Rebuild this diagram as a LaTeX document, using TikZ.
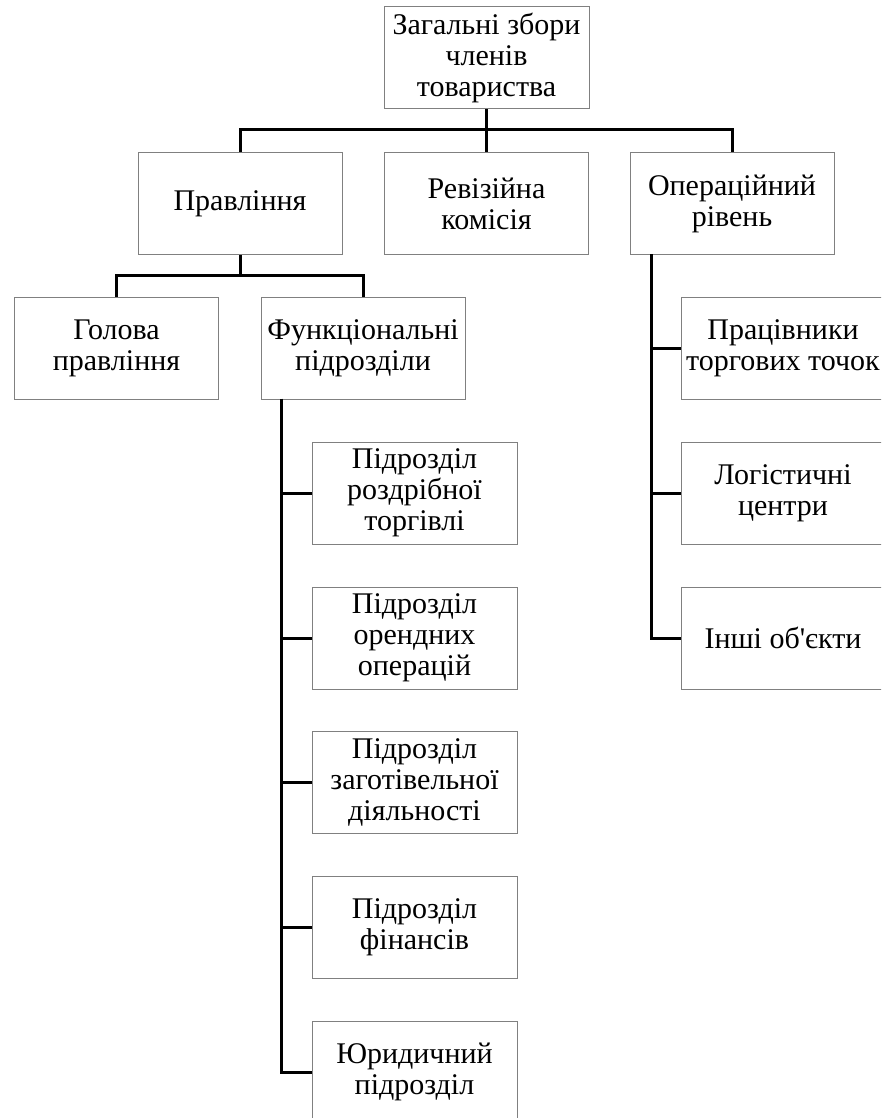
\documentclass[tikz,border=0pt]{standalone}
\usepackage{fontspec}
\newfontfamily\boxfont{Liberation Serif}
\definecolor{boxgray}{RGB}{128,128,128}
\tikzset{
  orgbox/.style={draw=boxgray, line width=1pt, fill=white, rectangle,
    minimum width=204pt, minimum height=102pt, inner sep=0pt,
    align=center, font=\boxfont\fontsize{30}{31}\selectfont},
  link/.style={draw=black, line width=3pt, line join=miter}
}
\begin{document}
\begin{tikzpicture}[x=1pt,y=-1pt]
\path[use as bounding box, clip] (0,0) rectangle (881,1118);
% level 1
\node[orgbox, minimum width=205pt] (top) at (486.5,58) {Загальні збори\\членів\\товариства};
% level 2
\node[orgbox] (prav) at (240,203.5) {Правління};
\node[orgbox] (rev) at (486.5,203.5) {Ревізійна\\комісія};
\node[orgbox] (oper) at (732,203.5) {Операційний\\рівень};
% level 3
\node[orgbox] (hol) at (116.5,348) {Голова\\правління};
\node[orgbox] (func) at (363,348) {Функціональні\\підрозділи};
% functional subunits
\node[orgbox, minimum width=205pt] (s1) at (414.5,493) {Підрозділ\\роздрібної\\торгівлі};
\node[orgbox, minimum width=205pt] (s2) at (414.5,638) {Підрозділ\\орендних\\операцій};
\node[orgbox, minimum width=205pt] (s3) at (414.5,782.5) {Підрозділ\\заготівельної\\діяльності};
\node[orgbox, minimum width=205pt] (s4) at (414.5,927) {Підрозділ\\фінансів};
\node[orgbox, minimum width=205pt] (s5) at (414.5,1072) {Юридичний\\підрозділ};
% operational units
\node[orgbox] (r1) at (783,348) {Працівники\\торгових точок};
\node[orgbox] (r2) at (783,493) {Логістичні\\центри};
\node[orgbox] (r3) at (783,638) {Інші об'єкти};
% connectors
\coordinate (bus1) at (486.5,130);
\draw[link] (top.south) -- (rev.north);
\draw[link] (prav.north) |- (bus1) -| (oper.north);
\coordinate (bus2) at (240,275);
\draw[link] (prav.south) -- (bus2);
\draw[link] (hol.north) |- (bus2) -| (func.north);
\coordinate (fs) at (281,398.5);
\draw[link] (fs) |- (s5.west);
\foreach \n in {s1,s2,s3,s4} \draw[link] (\n.west -| fs) -- (\n.west);
\coordinate (os) at (651,254);
\draw[link] (os) |- (r3.west);
\foreach \n in {r1,r2} \draw[link] (\n.west -| os) -- (\n.west);
\end{tikzpicture}
\end{document}
